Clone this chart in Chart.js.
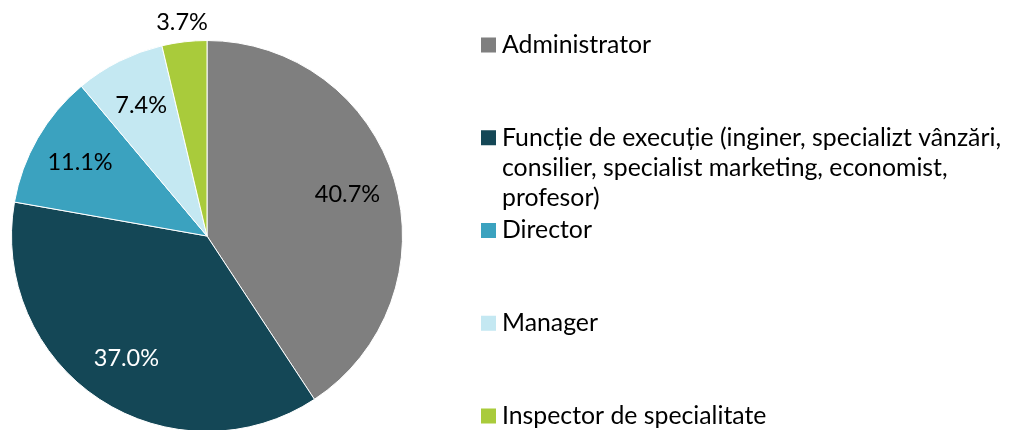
<!DOCTYPE html>
<html>
<head>
<meta charset="utf-8">
<script src="https://cdn.jsdelivr.net/npm/chart.js@4/dist/chart.umd.min.js"></script>
<style>
    html, body { margin: 0; padding: 0; background: #fff; overflow: hidden; }
    #wrap { width: 1010px; height: 430px; overflow: hidden; }
</style>
</head>
<body>
<div id="wrap"><canvas id="grafico" width="1010" height="432"></canvas></div>
<script>
// Dados
const categorias = [
    'Administrator',
    'Funcție de execuție (inginer, specializt vânzări, consilier, specialist marketing, economist, profesor)',
    'Director',
    'Manager',
    'Inspector de specialitate'
];
const valores = [40.7, 37.0, 11.1, 7.4, 3.7];
const cores = ['#7F7F7F', '#144756', '#3BA2BF', '#C4E8F2', '#A9CB3B'];
const coresRotulo = ['#000000', '#FFFFFF', '#000000', '#000000', '#000000'];

const fonte = 'Lato, sans-serif';

// Rótulos de porcentagem sobre as fatias
const rotulosPlugin = {
    id: 'rotulos',
    afterDatasetsDraw(chart) {
        const ctx = chart.ctx;
        const meta = chart.getDatasetMeta(0);
        ctx.save();
        ctx.font = '23.5px ' + fonte;
        ctx.textAlign = 'center';
        ctx.textBaseline = 'middle';
        meta.data.forEach((arco, i) => {
            const meio = (arco.startAngle + arco.endAngle) / 2;
            const fora = valores[i] < 5;
            const r = fora ? arco.outerRadius * 1.1 : arco.outerRadius * 0.75;
            const x = arco.x + Math.cos(meio) * r;
            const y = arco.y + Math.sin(meio) * r;
            ctx.fillStyle = fora ? '#000000' : coresRotulo[i];
            ctx.fillText(valores[i].toFixed(1) + '%', x, y);
        });
        ctx.restore();
    }
};

// Legenda desenhada à direita
function quebrarTexto(ctx, texto, largura) {
    const palavras = texto.split(' ');
    const linhas = [];
    let atual = '';
    palavras.forEach(p => {
        const teste = atual ? atual + ' ' + p : p;
        if (ctx.measureText(teste).width > largura && atual) {
            linhas.push(atual);
            atual = p;
        } else {
            atual = teste;
        }
    });
    if (atual) linhas.push(atual);
    return linhas;
}

const legendaPlugin = {
    id: 'legenda',
    afterDraw(chart) {
        const ctx = chart.ctx;
        ctx.save();
        ctx.font = '24.8px ' + fonte;
        ctx.textBaseline = 'middle';
        ctx.textAlign = 'left';
        const topo = 45;
        const passo = 92.75;
        categorias.forEach((cat, i) => {
            const y = topo + i * passo;
            ctx.fillStyle = cores[i];
            ctx.fillRect(481, y - 7.5, 15, 15);
            ctx.fillStyle = '#000000';
            quebrarTexto(ctx, cat, 515).forEach((linha, j) => {
                ctx.fillText(linha, 502, y + j * 30);
            });
        });
        ctx.restore();
    }
};

new Chart(document.getElementById('grafico'), {
    type: 'pie',
    data: {
        labels: categorias,
        datasets: [{
            data: valores,
            backgroundColor: cores,
            borderColor: '#FFFFFF',
            borderWidth: 1
        }]
    },
    options: {
        responsive: false,
        animation: false,
        layout: {
            padding: { left: 11, top: 40, right: 607, bottom: 0 }
        },
        plugins: {
            legend: { display: false },
            tooltip: { enabled: false }
        }
    },
    plugins: [rotulosPlugin, legendaPlugin]
});
</script>
</body>
</html>
